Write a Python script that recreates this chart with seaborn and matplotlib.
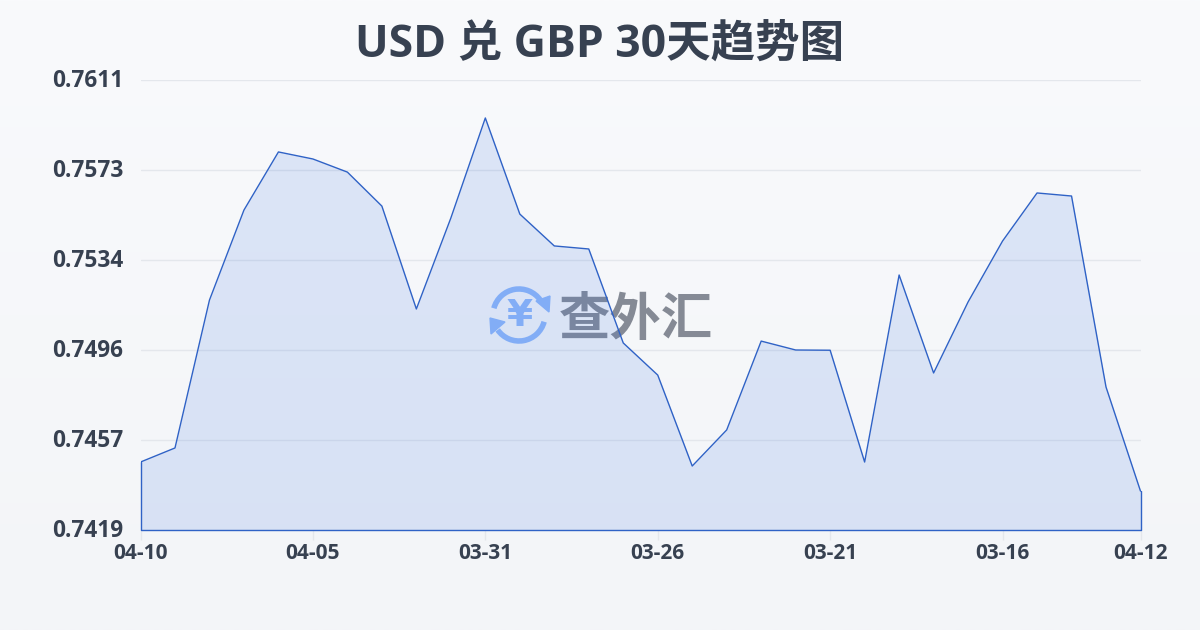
import matplotlib
matplotlib.use("Agg")
import matplotlib.pyplot as plt
import matplotlib.transforms as mtrans
from matplotlib.patches import Arc, Polygon
import numpy as np
import pandas as pd
import seaborn as sns

# Data (the last label really is 04-12 in the original)
dates = ["04-10", "04-09", "04-08", "04-07", "04-06", "04-05", "04-04", "04-03", "04-02", "04-01",
         "03-31", "03-30", "03-29", "03-28", "03-27", "03-26", "03-25", "03-24", "03-23", "03-22",
         "03-21", "03-20", "03-19", "03-18", "03-17", "03-16", "03-15", "03-14", "03-13", "04-12"]
rates = [0.74480, 0.74540, 0.75171, 0.75555, 0.75803, 0.75773, 0.75717, 0.75572, 0.75133, 0.75521,
         0.75948, 0.75538, 0.75402, 0.75389, 0.74988, 0.74851, 0.74463, 0.74617, 0.74996, 0.74958,
         0.74957, 0.74480, 0.75278, 0.74860, 0.75163, 0.75423, 0.75628, 0.75615, 0.74800, 0.74356]
y_labels = ["0.7419", "0.7457", "0.7496", "0.7534", "0.7573", "0.7611"]
x_tick_pos = [0, 5, 10, 15, 20, 25, 29]

df = pd.DataFrame({"date": dates, "rate": rates})
df["pos"] = df.index

sns.set_theme(style="white")
plt.rcParams["font.family"] = ["Open Sans", "Noto Sans CJK SC", "DejaVu Sans"]

TEXT = "#374151"
LINE = "#2f62c6"
GRID = "#e4e7ec"

fig = plt.figure(figsize=(12, 6.3), dpi=100)

# page background, soft vertical gradient
bg = fig.add_axes([0, 0, 1, 1], zorder=0)
bg.imshow(np.linspace(0, 1, 256).reshape(-1, 1), aspect="auto", extent=(0, 1200, 630, 0),
          cmap=matplotlib.colors.LinearSegmentedColormap.from_list("bg", ["#f9fafc", "#f3f5f8"]))
bg.set_xlim(0, 1200)
bg.set_ylim(630, 0)
bg.axis("off")

ax = fig.add_axes([140.5 / 1200, 100 / 630, 1000 / 1200, 450 / 630], zorder=1)
ax.patch.set_alpha(0)
ax.set_xlim(0, len(dates) - 1)
ax.set_ylim(0.7419, 0.7611)

y_ticks = np.linspace(0.7419, 0.7611, 6)
ax.set_yticks(y_ticks)
ax.set_yticklabels(y_labels)
ax.set_xticks(x_tick_pos)
ax.set_xticklabels([dates[i] for i in x_tick_pos])
ax.grid(axis="y", color=GRID, linewidth=1)
ax.set_axisbelow(True)
ax.tick_params(axis="y", length=0, left=False, pad=12.5, labelsize=16.3, labelcolor=TEXT)
ax.tick_params(axis="x", bottom=True, length=7, width=1, color=GRID, pad=2.5, labelsize=15, labelcolor=TEXT)
for lab in ax.get_yticklabels():
    lab.set_fontweight("bold")
    lab.set_transform(lab.get_transform() + mtrans.ScaledTranslation(0, 1.5 / 72, fig.dpi_scale_trans))
for lab in ax.get_xticklabels():
    lab.set_fontweight("bold")
sns.despine(ax=ax, left=True, bottom=True)

# watermark sits under the area fill's line
wm = fig.add_axes([0, 0, 1, 1], zorder=2)
wm.set_xlim(0, 1200)
wm.set_ylim(630, 0)
wm.axis("off")
wm.text(636, 320, "查外汇", fontsize=37, fontweight="bold", color="#858a95", ha="center", va="center",
        family="Noto Sans CJK SC")
LOGO = "#8fb8fb"
wm.add_patch(Arc((519, 315), 52, 52, theta1=195, theta2=325, color=LOGO, lw=4))
wm.add_patch(Arc((519, 315), 52, 52, theta1=15, theta2=145, color=LOGO, lw=4))
wm.add_patch(Polygon([[536, 301], [550, 296], [549, 312]], color=LOGO))
wm.add_patch(Polygon([[490, 318], [505, 322], [491, 334]], color=LOGO))
wm.text(520, 316, "¥", fontsize=27, fontweight="bold", color=LOGO, ha="center", va="center", family="DejaVu Sans")

# area and line on a transparent axes above the watermark
top = fig.add_axes(ax.get_position(), zorder=3, sharex=ax, sharey=ax)
top.patch.set_alpha(0)
top.axis("off")
top.fill_between(df["pos"], df["rate"], 0.7419, color="#3b74e0", alpha=0.15, linewidth=0)
sns.lineplot(data=df, x="pos", y="rate", ax=top, color=LINE, linewidth=1, legend=False, errorbar=None)
top.plot([0, 0, len(dates) - 1, len(dates) - 1], [rates[0], 0.7419, 0.7419, rates[-1]],
         color=LINE, linewidth=1, clip_on=False)
top.set_xlim(0, len(dates) - 1)
top.set_ylim(0.7419, 0.7611)

fig.text(600 / 1200, 1 - 45 / 630, "USD 兑 GBP 30天趋势图", fontsize=32, fontweight="bold",
         color=TEXT, ha="center", va="center")

fig.savefig("out.png", dpi=100)
